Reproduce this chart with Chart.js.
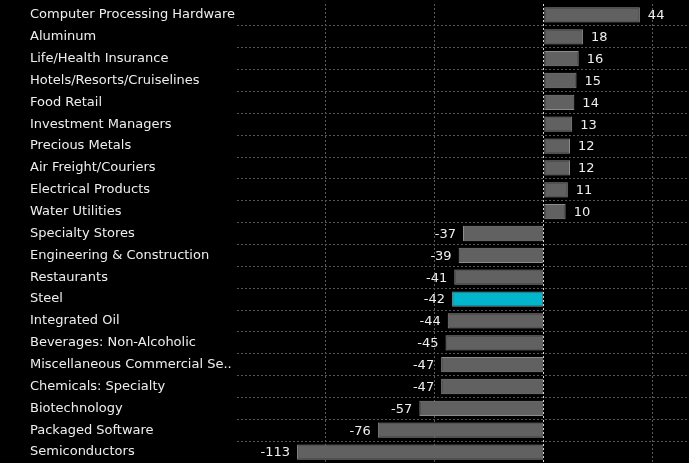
<!DOCTYPE html>
<html lang="en">
<head>
  <meta charset="UTF-8">
  <title>Industry ranking</title>
  <script src="https://cdn.jsdelivr.net/npm/chart.js@4.4.0/dist/chart.umd.min.js"></script>
  <style>
    html, body { margin: 0; padding: 0; background: #000; }
    .chart-container { width: 689px; height: 463px; }
  </style>
</head>
<body>
  <div class="chart-container">
    <canvas id="rankChart"></canvas>
  </div>

  <script>
    const industries = [
      'Computer Processing Hardware', 'Aluminum', 'Life/Health Insurance', 'Hotels/Resorts/Cruiselines',
      'Food Retail', 'Investment Managers', 'Precious Metals', 'Air Freight/Couriers',
      'Electrical Products', 'Water Utilities', 'Specialty Stores', 'Engineering & Construction',
      'Restaurants', 'Steel', 'Integrated Oil', 'Beverages: Non-Alcoholic',
      'Miscellaneous Commercial Se..', 'Chemicals: Specialty', 'Biotechnology', 'Packaged Software',
      'Semiconductors'
    ];
    const values = [44, 18, 16, 15, 14, 13, 12, 12, 11, 10, -37, -39, -41, -42, -44, -45, -47, -47, -57, -76, -113];
    const highlighted = ['Steel'];
    const gridTicks = [-100, -50, 0, 50];

    const FONT = { family: 'DejaVu Sans', size: 13 };

    // value labels next to each bar end
    const valueLabels = {
      id: 'valueLabels',
      afterDatasetsDraw(chart) {
        const ctx = chart.ctx;
        const meta = chart.getDatasetMeta(0);
        ctx.save();
        ctx.font = `${FONT.size}px "${FONT.family}"`;
        ctx.fillStyle = '#eeeeee';
        ctx.textBaseline = 'middle';
        meta.data.forEach((bar, i) => {
          const v = values[i];
          if (v >= 0) {
            ctx.textAlign = 'left';
            ctx.fillText(v, bar.x + 8, bar.y + 1);
          } else {
            ctx.textAlign = 'right';
            ctx.fillText(v, bar.x - 7, bar.y + 1);
          }
        });
        ctx.restore();
      }
    };

    new Chart(document.getElementById('rankChart'), {
      type: 'bar',
      data: {
        labels: industries,
        datasets: [{
          data: values,
          backgroundColor: industries.map(n => highlighted.includes(n) ? '#00b5cc' : '#616161'),
          borderColor: '#8c8c8c',
          borderWidth: 1,
          borderSkipped: false,
          barPercentage: 0.7,
          categoryPercentage: 1
        }]
      },
      options: {
        indexAxis: 'y',
        responsive: true,
        maintainAspectRatio: false,
        animation: false,
        layout: { padding: { left: 30, top: 4, right: 0, bottom: -1 } },
        plugins: {
          legend: { display: false },
          tooltip: { enabled: false }
        },
        scales: {
          x: {
            min: -140.5,
            max: 66.5,
            afterBuildTicks: scale => { scale.ticks = gridTicks.map(v => ({ value: v })); },
            ticks: { display: false },
            grid: {
              drawTicks: false,
              color: ctx => ctx.tick && ctx.tick.value === 0 ? '#d8d8d8' : '#5a5a5a',
              lineWidth: 1
            },
            border: { display: false, dash: [2, 2] }
          },
          y: {
            afterFit: scale => {
              scale.width = 207;
              scale.paddingTop = 0;
              scale.paddingBottom = 0;
            },
            ticks: {
              crossAlign: 'far',
              color: '#eeeeee',
              font: FONT,
              padding: 0
            },
            border: { display: false, dash: [2, 2] },
            grid: {
              drawTicks: false,
              color: ctx => (ctx.index === 0 || ctx.index === industries.length) ? 'rgba(0,0,0,0)' : '#555555'
            }
          }
        }
      },
      plugins: [valueLabels]
    });
  </script>
</body>
</html>
